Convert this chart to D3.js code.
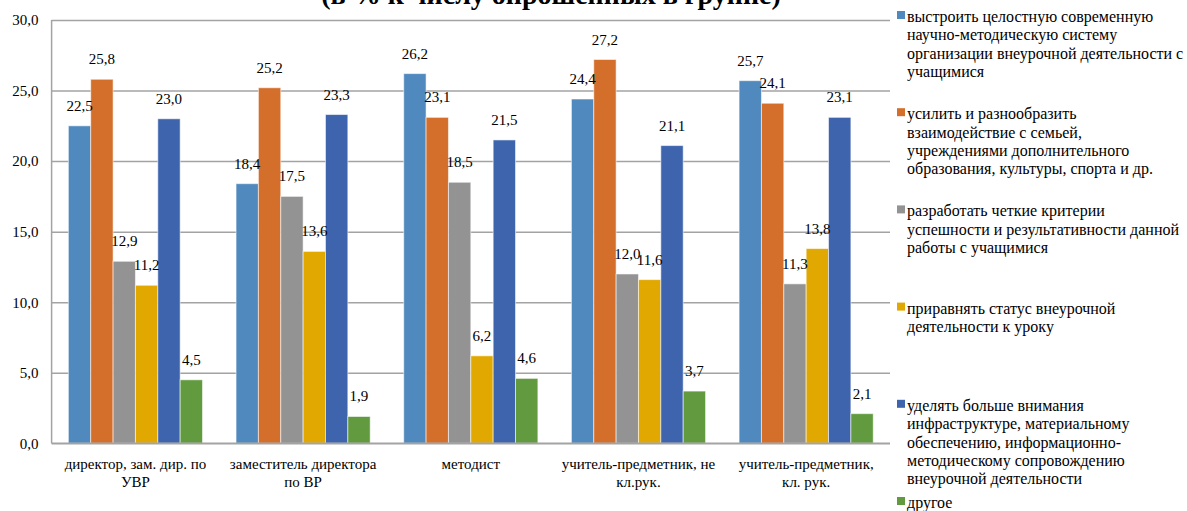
<!DOCTYPE html>
<html><head><meta charset="utf-8">
<script src="https://cdn.jsdelivr.net/npm/d3@7"></script>
<style>
html,body{margin:0;padding:0;background:#fff;}
</style></head>
<body><svg id="chart" width="1187" height="511"></svg>
<script>
const title = "(в % к числу опрошенных в группе)";
const categories = ["директор, зам. дир. по УВР","заместитель директора по ВР","методист","учитель-предметник, не кл.рук.","учитель-предметник, кл. рук."];
const categoryLines = [["директор, зам. дир. по","УВР"],["заместитель директора","по ВР"],["методист"],["учитель-предметник, не","кл.рук."],["учитель-предметник,","кл. рук."]];
const seriesNames = ["выстроить","усилить","разработать","приравнять","уделять","другое"];
const legendLines = [
 ["выстроить целостную современную","научно-методическую систему","организации внеурочной деятельности с","учащимися"],
 ["усилить и разнообразить","взаимодействие с семьей,","учреждениями дополнительного","образования, культуры, спорта и др."],
 ["разработать четкие критерии","успешности и результативности данной","работы с учащимися"],
 ["приравнять статус внеурочной","деятельности к уроку"],
 ["уделять больше внимания","инфраструктуре, материальному","обеспечению, информационно-","методическому сопровождению","внеурочной деятельности"],
 ["другое"]
];
const seriesColors = ["#4F89BD","#D36E2B","#939393","#E0A800","#3E64AE","#629A3F"];
const s1 = [22.5,18.4,26.2,24.4,25.7];
const s2 = [25.8,25.2,23.1,27.2,24.1];
const s3 = [12.9,17.5,18.5,12.0,11.3];
const s4 = [11.2,13.6,6.2,11.6,13.8];
const s5 = [23.0,23.3,21.5,21.1,23.1];
const s6 = [4.5,1.9,4.6,3.7,2.1];
const seriesValues = [s1,s2,s3,s4,s5,s6];
const yTicks = [0,5,10,15,20,25,30];

const FONT = "Liberation Serif, Tinos, DejaVu Serif, Times New Roman, serif";
const svg = d3.select("#chart").style("font-family",FONT);
const plot = {left:51.6,right:890,top:20,bottom:443.3};
const fmt = v => d3.format(".1f")(v).replace(".",",");

const x0 = d3.scaleBand().domain(categories).range([plot.left,plot.right]).paddingInner(0).paddingOuter(0);
const x1 = d3.scaleBand().domain(d3.range(seriesNames.length)).range([0,x0.bandwidth()]).paddingInner(0).paddingOuter(0.75);
const y = d3.scaleLinear().domain([0,30]).range([plot.bottom,plot.top]);

const grid = svg.append("g").attr("transform",`translate(${plot.left},0)`)
  .call(d3.axisLeft(y).tickValues(yTicks).tickSize(-(plot.right-plot.left)).tickFormat(""));
grid.select(".domain").remove();
grid.selectAll("line").attr("stroke","#a3a3a3").attr("stroke-width",1.5);

svg.append("line").attr("x1",plot.left).attr("x2",plot.left).attr("y1",plot.top).attr("y2",plot.bottom)
  .attr("stroke","#a3a3a3").attr("stroke-width",1.5);

const yAx = svg.append("g").attr("transform",`translate(${plot.left-13},0)`)
  .call(d3.axisLeft(y).tickValues(yTicks).tickSize(0).tickPadding(0).tickFormat(fmt));
yAx.attr("font-family",null).attr("font-size",null);
yAx.select(".domain").remove();
yAx.selectAll("text").style("font-family",FONT).attr("font-size",15).attr("fill","#000");

const groups = svg.append("g").selectAll("g").data(categories).join("g")
  .attr("transform",d=>`translate(${x0(d)},0)`);
groups.each(function(cat,ci){
  const g = d3.select(this);
  const data = seriesValues.map((arr,si)=>({si,v:arr[ci]}));
  g.selectAll("rect").data(data).join("rect")
    .attr("x",d=>x1(d.si)).attr("width",x1.bandwidth())
    .attr("y",d=>y(d.v)).attr("height",d=>y(0)-y(d.v))
    .attr("fill",d=>seriesColors[d.si])
    .attr("stroke","rgba(255,255,255,0.55)").attr("stroke-width",1);
  g.selectAll("text.lbl").data(data).join("text").attr("class","lbl")
    .attr("x",d=>x1(d.si)+x1.bandwidth()/2).attr("y",d=>y(d.v)-15)
    .attr("text-anchor","middle").attr("font-size",15).attr("fill","#000")
    .text(d=>fmt(d.v));
});

svg.append("line").attr("x1",plot.left).attr("x2",plot.right).attr("y1",plot.bottom).attr("y2",plot.bottom)
  .attr("stroke","#a3a3a3").attr("stroke-width",1.5);

categories.forEach((c,i)=>{
  const t = svg.append("text").attr("text-anchor","middle").attr("font-size",15).attr("fill","#000")
    .attr("x",x0(c)+x0.bandwidth()/2).attr("y",469);
  categoryLines[i].forEach((ln,j)=>t.append("tspan").attr("x",x0(c)+x0.bandwidth()/2).attr("dy",j?18.4:0).text(ln));
});

svg.append("text").attr("x",551).attr("y",4).attr("text-anchor","middle")
  .attr("font-size",28).attr("font-weight","bold").attr("fill","#000").text(title);

const legStart = 17, legStep = 97.2, lineH = 18.4;
legendLines.forEach((lines,i)=>{
  const cy = legStart + i*legStep;
  svg.append("rect").attr("x",897).attr("y",cy-6).attr("width",8).attr("height",8).attr("fill",seriesColors[i]);
  const t = svg.append("text").attr("font-size",16).attr("fill","#000").attr("x",907).attr("y",cy+5);
  lines.forEach((ln,j)=>t.append("tspan").attr("x",907).attr("dy",j?lineH:0).text(ln));
});
</script></body></html>
